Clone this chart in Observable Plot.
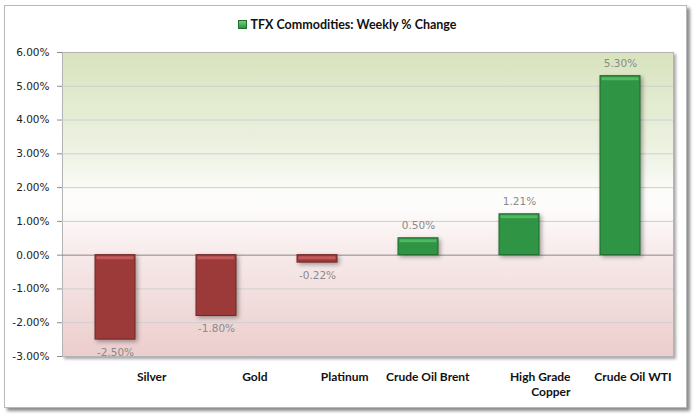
<!DOCTYPE html>
<html>
<head>
<meta charset="utf-8">
<script src="https://cdn.jsdelivr.net/npm/d3@7"></script>
<script src="https://cdn.jsdelivr.net/npm/@observablehq/plot@0.6"></script>
<style>
  html, body { margin: 0; padding: 0; background: #fff; }
  #wrap { position: relative; width: 695px; height: 418px; overflow: hidden; }
  #box { position: absolute; left: 4px; top: 5px; width: 681px; height: 401px; border: 1px solid #b8b8b8; box-shadow: 3px 3px 3px rgba(0,0,0,0.45); background: #fff; }
  #title { position: absolute; left: 0; width: 695px; top: 17px; text-align: center; font: bold 12.5px Lato, "Open Sans", sans-serif; color: #111; }
  #title .sw { display: inline-block; width: 7px; height: 7px; margin-right: 3px; vertical-align: 0px; border: 1px solid #1f6e2e; background: linear-gradient(#6fd07f, #2e9442); }
  #chart { position: absolute; left: 0; top: 0; }
  .frame { filter: drop-shadow(2px 2px 1.5px rgba(0,0,0,0.35)); }
  .bars { filter: drop-shadow(2px 2px 2px rgba(0,0,0,0.35)); }
</style>
</head>
<body>
<svg width="0" height="0" style="position:absolute">
  <defs>
    <linearGradient id="bg" x1="0" y1="0" x2="0" y2="1">
      <stop offset="0" stop-color="#d8e3bd"/>
      <stop offset="0.335" stop-color="#eef3e4"/>
      <stop offset="0.47" stop-color="#fdfdfb"/>
      <stop offset="0.52" stop-color="#fdfbfb"/>
      <stop offset="0.67" stop-color="#f7e9e9"/>
      <stop offset="1" stop-color="#ebcdcc"/>
    </linearGradient>
  </defs>
</svg>
<div id="wrap">
  <div id="box"></div>
  <div id="title"><span class="sw"></span>TFX Commodities: Weekly % Change</div>
  <div id="chart"></div>
</div>
<script>
const categories = ["Silver", "Gold", "Platinum", "Crude Oil Brent", "High Grade\nCopper", "Crude Oil WTI"];
const values = [-0.025, -0.018, -0.0022, 0.005, 0.0121, 0.053];
const valueLabels = ["-2.50%", "-1.80%", "-0.22%", "0.50%", "1.21%", "5.30%"];
const yTicks = [-0.03, -0.02, -0.01, 0, 0.01, 0.02, 0.03, 0.04, 0.05, 0.06];

const data = categories.map((c, i) => ({cat: c, v: values[i], label: valueLabels[i]}));
const fmt = d => (d * 100).toFixed(2) + "%";

const chart = Plot.plot({
  width: 695,
  height: 418,
  marginTop: 52,
  marginBottom: 62,
  marginLeft: 62,
  marginRight: 22,
  style: {background: "transparent", fontFamily: "'DejaVu Sans', sans-serif", fontSize: "10.5px"},
  x: {type: "band", domain: categories, paddingInner: 0.6, paddingOuter: 0.3, axis: null, label: null},
  y: {domain: [-0.03, 0.06], axis: null, label: null},
  marks: [
    Plot.frame({fill: "url(#bg)", stroke: "#b4b4b4", className: "frame"}),
    Plot.gridY(yTicks.filter(d => d !== 0 && d !== -0.03 && d !== 0.06), {stroke: "#cfcfcf", strokeOpacity: 1}),
    Plot.ruleY([0], {stroke: "#8a8a8a", strokeWidth: 1}),
    Plot.barY(data, {
      x: "cat", y1: 0, y2: "v",
      fill: d => d.v >= 0 ? "#2f9443" : "#9c3a3a",
      stroke: d => d.v >= 0 ? "#1f6a2c" : "#722626",
      strokeWidth: 1,
      className: "bars"
    }),
    Plot.tickY(data, {
      x: "cat", y: d => Math.max(d.v, 0),
      stroke: d => d.v >= 0 ? "#4fb862" : "#c25a5a",
      strokeWidth: 3, dy: 2.5, insetLeft: 1.5, insetRight: 1.5
    }),
    Plot.text(data.filter(d => d.v >= 0), {
      x: "cat", y: "v", text: "label", fill: "#8a8a8a", fontSize: 10.5, dy: -9, lineAnchor: "bottom"
    }),
    Plot.text(data.filter(d => d.v < 0), {
      x: "cat", y: "v", text: "label", fill: "#8a8a8a", fontSize: 10.5, dy: 9, lineAnchor: "top"
    }),
    Plot.axisY(yTicks, {
      tickFormat: fmt, tickSize: 5, tickPadding: 8, stroke: "#8a8a8a",
      fill: "#222", fontSize: 10.5, label: null
    }),
    Plot.ruleX([0], {frameAnchor: "left", stroke: "#8a8a8a"}),
    Plot.axisX({
      tickSize: 0, tickPadding: 13, textAnchor: "end", dx: 51, lineAnchor: "top", label: null,
      fontFamily: "Lato, 'Open Sans', sans-serif", fontWeight: "bold", fontSize: 12, fill: "#111", lineHeight: 1.3
    })
  ]
});
document.getElementById("chart").appendChild(chart);
</script>
</body>
</html>
